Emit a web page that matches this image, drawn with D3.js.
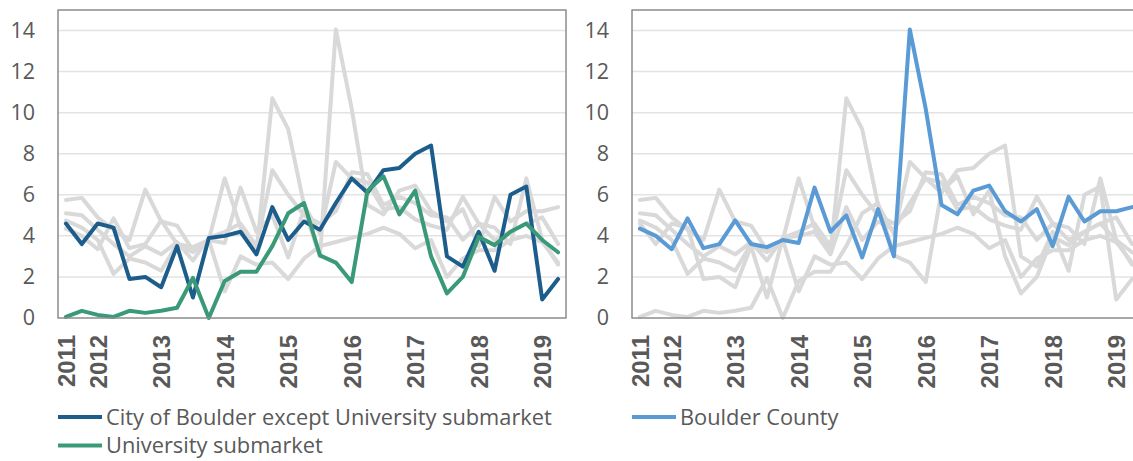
<!DOCTYPE html>
<html>
<head>
<meta charset="utf-8">
<script src="https://cdnjs.cloudflare.com/ajax/libs/d3/7.8.5/d3.min.js"></script>
<style>
  body { margin: 0; background: #fff; }
  svg { display: block; }
  .ylab { font-family: "Open Sans", sans-serif; font-size: 21.5px; fill: #595959; }
  .xlab { font-family: "Liberation Sans", Arial, sans-serif; font-size: 24px; font-weight: bold; fill: #595959; }
  .legend text { font-family: "Open Sans", sans-serif; font-size: 21.8px; fill: #595959; }
  .grid line { stroke: #e3e3e3; stroke-width: 1.5; }
  .frame { fill: none; stroke: #8c8c8c; stroke-width: 1.5; }
  .series { fill: none; stroke-width: 4; stroke-linejoin: round; stroke-linecap: round; }
</style>
</head>
<body>
<script>
// quarterly categories, 2011 Q3 .. 2019 Q2
var quarters = ["2011 Q3","2011 Q4",
  "2012 Q1","2012 Q2","2012 Q3","2012 Q4",
  "2013 Q1","2013 Q2","2013 Q3","2013 Q4",
  "2014 Q1","2014 Q2","2014 Q3","2014 Q4",
  "2015 Q1","2015 Q2","2015 Q3","2015 Q4",
  "2016 Q1","2016 Q2","2016 Q3","2016 Q4",
  "2017 Q1","2017 Q2","2017 Q3","2017 Q4",
  "2018 Q1","2018 Q2","2018 Q3","2018 Q4",
  "2019 Q1","2019 Q2"];
var yearTicks = ["2011 Q3","2012 Q1","2013 Q1","2014 Q1","2015 Q1","2016 Q1","2017 Q1","2018 Q1","2019 Q1"];
var yearLabels = ["2011","2012","2013","2014","2015","2016","2017","2018","2019"];
var yTicks = [0, 2, 4, 6, 8, 10, 12, 14];

var cityExUniv = [4.6,3.6,4.6,4.4,1.9,2.0,1.5,3.5,1.0,3.9,4.0,4.2,3.1,5.4,3.8,4.7,
  4.3,5.6,6.8,6.1,7.2,7.3,8.0,8.4,3.0,2.5,4.2,2.3,6.0,6.4,0.9,1.9];
var university = [0.05,0.35,0.15,0.05,0.35,0.25,0.35,0.5,1.95,0.0,1.8,2.25,2.25,3.5,5.1,5.6,
  3.05,2.7,1.75,6.2,6.9,5.05,6.2,3.0,1.2,2.0,3.95,3.55,4.2,4.6,3.8,3.2];
var boulderCounty = [4.35,4.0,3.35,4.85,3.4,3.6,4.75,3.6,3.45,3.8,3.65,6.35,4.2,5.0,2.95,5.3,
  3.0,14.05,10.2,5.5,5.05,6.2,6.45,5.2,4.7,5.3,3.5,5.9,4.7,5.2,5.2,5.4];
var otherA = [5.75,5.85,4.9,4.3,3.8,6.25,4.7,4.5,3.3,3.8,6.8,4.4,3.2,10.7,9.2,5.5,
  4.1,7.6,6.8,6.6,5.3,5.4,4.8,4.5,4.3,5.9,4.6,4.4,3.6,6.8,3.8,2.6];
var otherB = [5.1,5.0,4.3,3.6,3.0,3.5,3.1,3.7,2.8,3.9,4.2,4.6,3.5,7.2,6.0,5.0,
  4.6,5.2,7.1,7.0,5.5,5.9,5.6,5.0,4.9,3.8,4.6,3.8,4.2,4.6,4.9,3.6];
var otherC = [4.75,4.4,3.8,2.15,2.9,2.7,2.3,3.6,3.2,3.8,1.3,3.0,2.6,2.7,1.9,2.9,
  3.5,3.7,3.9,4.1,4.4,4.1,3.4,3.8,2.0,2.9,3.3,3.3,3.8,4.0,3.7,2.7];

var width = 1133, height = 461;
var plotW = 508, plotTop = 10, plotBottom = 318;

var svg = d3.select("body").append("svg")
  .attr("width", width)
  .attr("height", height);

var x = d3.scalePoint().domain(quarters).range([0, plotW]).padding(0.5);
var y = d3.scaleLinear().domain([0, 15]).range([plotBottom, plotTop]);

var line = d3.line()
  .x(function(d, i) { return x(quarters[i]); })
  .y(function(d) { return y(d); });

function drawPanel(left, lines, legend) {
  var g = svg.append("g").attr("transform", "translate(" + left + ",0)");

  g.append("g").attr("class", "grid")
    .selectAll("line")
    .data(yTicks.filter(function(t) { return t > 0; }))
    .enter().append("line")
      .attr("x1", 0).attr("x2", plotW)
      .attr("y1", function(d) { return y(d); })
      .attr("y2", function(d) { return y(d); });

  // y labels
  var yAxis = d3.axisLeft(y).tickValues(yTicks).tickSize(0).tickPadding(23);
  var ya = g.append("g").call(yAxis);
  ya.select(".domain").remove();
  ya.selectAll("text").attr("class", "ylab").attr("fill", null).attr("font-size", null).attr("font-family", null);

  // series, grey ones first
  lines.forEach(function(s) {
    g.append("path")
      .attr("class", "series")
      .attr("stroke", s.color)
      .attr("d", line(s.values));
  });

  g.append("rect").attr("class", "frame")
    .attr("x", 0).attr("y", plotTop)
    .attr("width", plotW).attr("height", plotBottom - plotTop);

  // x labels
  var xAxis = d3.axisBottom(x).tickValues(yearTicks).tickSize(0)
    .tickFormat(function(d) { return yearLabels[yearTicks.indexOf(d)]; });
  var xa = g.append("g").attr("transform", "translate(0," + plotBottom + ")").call(xAxis);
  xa.select(".domain").remove();
  xa.selectAll("text")
    .attr("class", "xlab")
    .attr("fill", null).attr("font-size", null).attr("font-family", null)
    .attr("transform", "rotate(-90)")
    .attr("text-anchor", "end")
    .attr("x", -17)
    .attr("y", 0)
    .attr("dy", "0.36em");

  var lg = g.append("g").attr("class", "legend");
  legend.forEach(function(s, i) {
    var ly = 417 + i * 28.5;
    lg.append("line")
      .attr("x1", 0).attr("x2", 44)
      .attr("y1", ly).attr("y2", ly)
      .attr("stroke", s.color).attr("stroke-width", 4);
    lg.append("text")
      .attr("x", 48).attr("y", ly).attr("dy", "0.35em")
      .text(s.name);
  });
}

var grey = "#d9d9d9";
var cityS = {name: "City of Boulder except University submarket", color: "#1c5d8c", values: cityExUniv};
var univS = {name: "University submarket", color: "#3a9a78", values: university};
var countyS = {name: "Boulder County", color: "#5b9bd5", values: boulderCounty};

drawPanel(58, [
  {color: grey, values: otherA},
  {color: grey, values: otherB},
  {color: grey, values: otherC},
  {color: grey, values: boulderCounty},
  cityS, univS
], [cityS, univS]);

drawPanel(632, [
  {color: grey, values: otherA},
  {color: grey, values: otherB},
  {color: grey, values: otherC},
  {color: grey, values: cityExUniv},
  {color: grey, values: university},
  countyS
], [countyS]);
</script>
</body>
</html>
